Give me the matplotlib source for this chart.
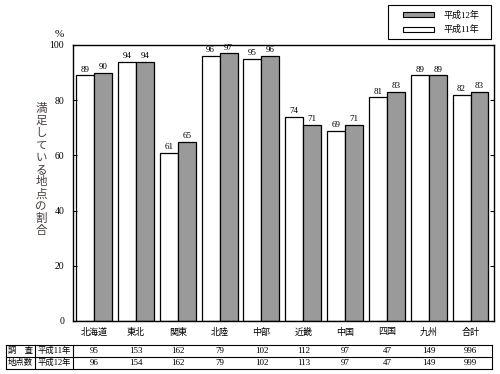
import numpy as np
import matplotlib
matplotlib.use("Agg")
import matplotlib.pyplot as plt
from matplotlib.patches import Rectangle
from matplotlib.lines import Line2D
from matplotlib.transforms import blended_transform_factory

plt.rcParams["font.family"] = ["Liberation Serif", "Noto Sans CJK JP"]

regions = ["北海道", "東北", "関東", "北陸", "中部", "近畿", "中国", "四国", "九州", "合計"]
pct_h11 = [89, 94, 61, 96, 95, 74, 69, 81, 89, 82]
pct_h12 = [90, 94, 65, 97, 96, 71, 71, 83, 89, 83]
n_h11 = [95, 153, 162, 79, 102, 112, 97, 47, 149, 996]
n_h12 = [96, 154, 162, 79, 102, 113, 97, 47, 149, 999]
ylabel = "満足している地点の割合"

grey = "#9a9a9a"

fig = plt.figure(figsize=(5, 3.74), dpi=100)
ax = fig.add_axes([72.5 / 500, 1 - 321 / 374, 421 / 500, 276 / 374])

x = np.arange(len(regions))
w = 0.43
b11 = ax.bar(x - w / 2, pct_h11, w, color="white", edgecolor="black", linewidth=0.9)
b12 = ax.bar(x + w / 2, pct_h12, w, color=grey, edgecolor="black", linewidth=0.9)

for bars, vals in ((b11, pct_h11), (b12, pct_h12)):
    for r, v in zip(bars, vals):
        ax.text(r.get_x() + r.get_width() / 2, v + 0.6, str(v), ha="center",
                va="bottom", fontsize=6.5)

ax.set_xlim(-0.52, 9.55)
ax.set_ylim(0, 100)
ax.set_yticks(range(0, 101, 20))
ax.tick_params(axis="y", direction="in", length=3, labelsize=7, right=True, pad=6)
ax.set_xticks(x)
ax.set_xticklabels(regions, fontsize=6.5)
ax.tick_params(axis="x", length=0, pad=5)
for s in ax.spines.values():
    s.set_linewidth(1.0)

# vertical y label, one character per line
for i, ch in enumerate(ylabel):
    fig.text(41 / 500, 1 - (109 + 12.2 * i) / 374, ch, fontsize=8.3,
             color="#4a3f3f", va="center", ha="center")
ax.text(-0.02, 1.02, "%", transform=ax.transAxes, fontsize=8, ha="right", va="bottom")

# legend box
ov = fig.add_axes([0, 0, 1, 1], zorder=-1)
ov.set_xlim(0, 500)
ov.set_ylim(374, 0)
ov.axis("off")
ov.add_patch(Rectangle((388, 5), 103, 34, fill=False, edgecolor="black", lw=0.8))
ov.add_patch(Rectangle((403, 12.3), 31, 5, facecolor=grey, edgecolor="black", lw=0.8))
ov.add_patch(Rectangle((403, 26.7), 31, 5, facecolor="white", edgecolor="black", lw=0.8))
ov.text(443, 15, "平成12年", fontsize=6.5, va="center")
ov.text(443, 29.3, "平成11年", fontsize=6.5, va="center")

# table below
top, mid, bot = 345, 357, 369
for yy in (top, mid, bot):
    ov.add_line(Line2D([6, 492], [yy, yy], color="black", lw=0.8))
for xx in (6, 35, 73, 492):
    ov.add_line(Line2D([xx, xx], [top, bot], color="black", lw=0.8))
ov.text(20.5, (top + mid) / 2, "調　査", fontsize=6, ha="center", va="center")
ov.text(20.5, (mid + bot) / 2, "地点数", fontsize=6, ha="center", va="center")
ov.text(54, (top + mid) / 2, "平成11年", fontsize=6, ha="center", va="center")
ov.text(54, (mid + bot) / 2, "平成12年", fontsize=6, ha="center", va="center")

tr = blended_transform_factory(ax.transData, fig.transFigure)
for xi, a, b in zip(x, n_h11, n_h12):
    fig.text(xi, 1 - (top + mid) / 2 / 374, str(a), transform=tr, fontsize=6.5,
             ha="center", va="center")
    fig.text(xi, 1 - (mid + bot) / 2 / 374, str(b), transform=tr, fontsize=6.5,
             ha="center", va="center")

fig.savefig("out.png", dpi=100)
